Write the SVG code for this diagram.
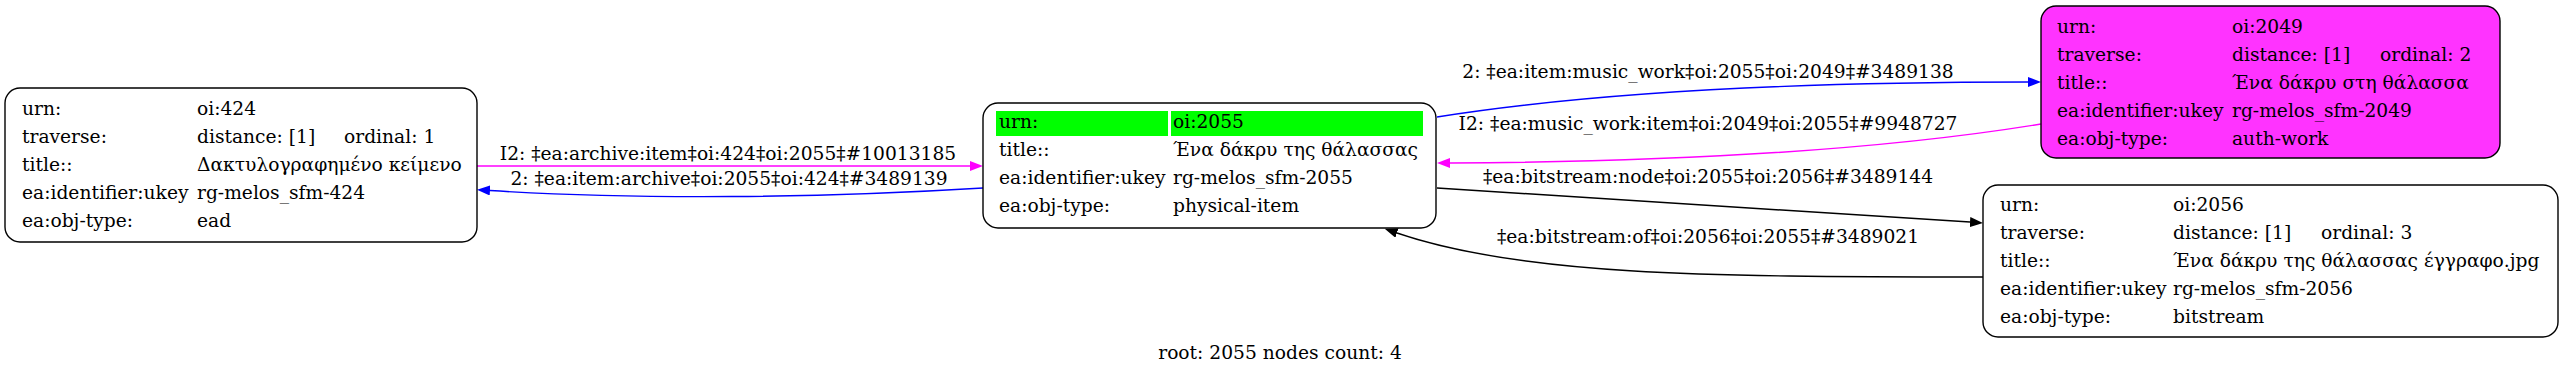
<svg xmlns="http://www.w3.org/2000/svg" width="2564" height="375" viewBox="0 0 2564 375">
<style>
text{font-family:"DejaVu Serif","Liberation Serif",serif;font-size:18.67px;fill:#000}
.box{fill:#fff;stroke:#000;stroke-width:1.4}
.mid{text-anchor:middle}
.e{fill:none;stroke-width:1.4}
.blue{stroke:#0000ff}
.mag{stroke:#ff00ff}
.blk{stroke:#000}
</style>
<defs>
<marker id="aBlue" markerUnits="userSpaceOnUse" markerWidth="14" markerHeight="10" refX="0" refY="5" orient="auto"><path d="M0,0 L13,5 L0,10 z" fill="#0000ff"/></marker>
<marker id="aMag" markerUnits="userSpaceOnUse" markerWidth="14" markerHeight="10" refX="0" refY="5" orient="auto"><path d="M0,0 L13,5 L0,10 z" fill="#ff00ff"/></marker>
<marker id="aBlk" markerUnits="userSpaceOnUse" markerWidth="14" markerHeight="10" refX="0" refY="5" orient="auto"><path d="M0,0 L13,5 L0,10 z" fill="#000"/></marker>
</defs>
<rect width="2564" height="375" fill="#fff"/>
<g id="connectors">
<path class="e mag" d="M477,166 L970,166" marker-end="url(#aMag)"/>
<text class="mid" x="728" y="160">I2: ‡ea:archive:item‡oi:424‡oi:2055‡#10013185</text>
<path class="e blue" d="M983,188 C820,198 640,200 490,190.5" marker-end="url(#aBlue)"/>
<text class="mid" x="729" y="185">2: ‡ea:item:archive‡oi:2055‡oi:424‡#3489139</text>
<path class="e blue" d="M1437,117 C1620,88 1850,82 2028,82" marker-end="url(#aBlue)"/>
<text class="mid" x="1708" y="78">2: ‡ea:item:music_work‡oi:2055‡oi:2049‡#3489138</text>
<path class="e mag" d="M2041,124 C1870,152 1650,162 1450,163" marker-end="url(#aMag)"/>
<text class="mid" x="1708" y="130">I2: ‡ea:music_work:item‡oi:2049‡oi:2055‡#9948727</text>
<path class="e blk" d="M1437,188 C1600,200 1800,210 1970,222" marker-end="url(#aBlk)"/>
<text class="mid" x="1708" y="183">‡ea:bitstream:node‡oi:2055‡oi:2056‡#3489144</text>
<path class="e blk" d="M1983,277 C1700,277 1520,275 1397,233" marker-end="url(#aBlk)"/>
<text class="mid" x="1708" y="243">‡ea:bitstream:of‡oi:2056‡oi:2055‡#3489021</text>
</g>
<g id="node-424">
<rect class="box" x="5" y="88" width="472" height="154" rx="15"/>
<text x="22" y="115">urn:</text><text x="197" y="115">oi:424</text>
<text x="22" y="143">traverse:</text><text x="197" y="143">distance: [1]</text><text x="344" y="143">ordinal: 1</text>
<text x="22" y="171">title::</text><text x="197" y="171">Δακτυλογραφημένο κείμενο</text>
<text x="22" y="199">ea:identifier:ukey</text><text x="197" y="199">rg-melos_sfm-424</text>
<text x="22" y="227">ea:obj-type:</text><text x="197" y="227">ead</text>
</g>
<g id="node-2055">
<rect class="box" x="983" y="103" width="453" height="125" rx="15"/>
<rect x="996" y="111" width="172" height="25" fill="#00ff00"/>
<rect x="1171" y="111" width="252" height="25" fill="#00ff00"/>
<text x="999" y="128">urn:</text><text x="1173" y="128">oi:2055</text>
<text x="999" y="156">title::</text><text x="1173" y="156">Ένα δάκρυ της θάλασσας</text>
<text x="999" y="184">ea:identifier:ukey</text><text x="1173" y="184">rg-melos_sfm-2055</text>
<text x="999" y="212">ea:obj-type:</text><text x="1173" y="212">physical-item</text>
</g>
<g id="node-2049">
<rect class="box" x="2041" y="6" width="459" height="152" rx="15" style="fill:#ff33ff"/>
<text x="2057" y="33">urn:</text><text x="2232" y="33">oi:2049</text>
<text x="2057" y="61">traverse:</text><text x="2232" y="61">distance: [1]</text><text x="2380" y="61">ordinal: 2</text>
<text x="2057" y="89">title::</text><text x="2232" y="89">Ένα δάκρυ στη θάλασσα</text>
<text x="2057" y="117">ea:identifier:ukey</text><text x="2232" y="117">rg-melos_sfm-2049</text>
<text x="2057" y="145">ea:obj-type:</text><text x="2232" y="145">auth-work</text>
</g>
<g id="node-2056">
<rect class="box" x="1983" y="185" width="575" height="152" rx="15"/>
<text x="2000" y="211">urn:</text><text x="2173" y="211">oi:2056</text>
<text x="2000" y="239">traverse:</text><text x="2173" y="239">distance: [1]</text><text x="2321" y="239">ordinal: 3</text>
<text x="2000" y="267">title::</text><text x="2173" y="267">Ένα δάκρυ της θάλασσας έγγραφο.jpg</text>
<text x="2000" y="295">ea:identifier:ukey</text><text x="2173" y="295">rg-melos_sfm-2056</text>
<text x="2000" y="323">ea:obj-type:</text><text x="2173" y="323">bitstream</text>
</g>
<text class="mid" x="1280" y="359">root: 2055 nodes count: 4</text>
</svg>
